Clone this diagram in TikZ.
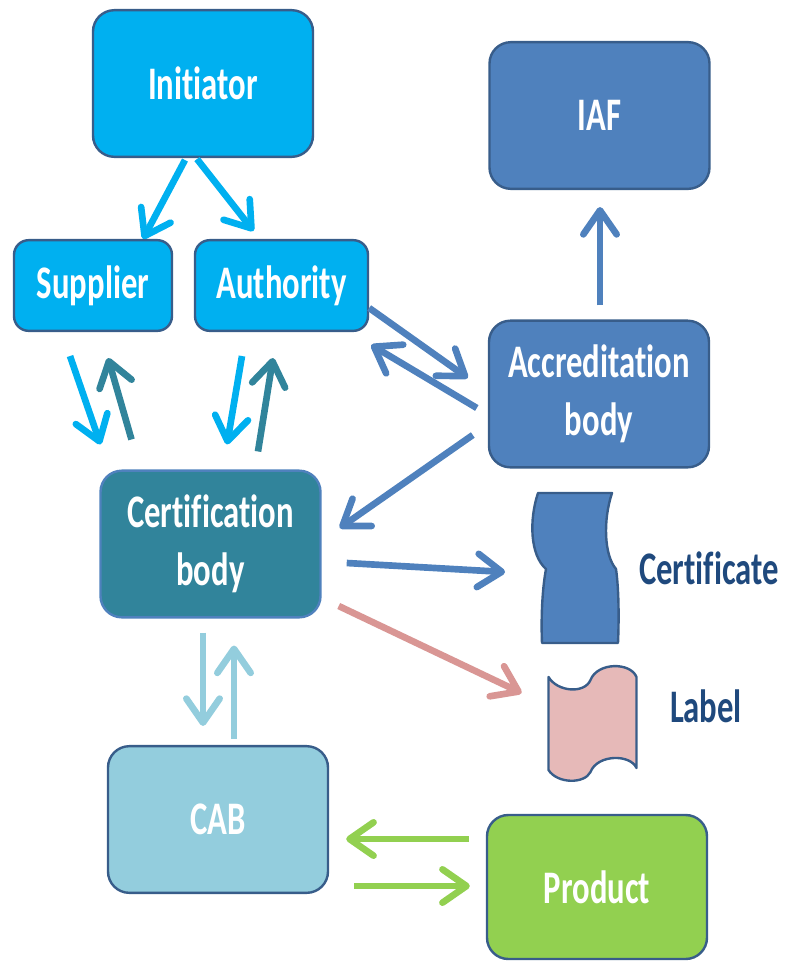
\documentclass[tikz,border=0pt]{standalone}
\usepackage{fontspec}
\setmainfont{Carlito}[FakeStretch=0.70, Ligatures={NoCommon,NoContextual}, RawFeature={-liga;-clig;-dlig}]
\usepackage{tikz}
\usetikzlibrary{arrows.meta,calc,positioning}

\definecolor{cyanfill}{HTML}{00B0F0}
\definecolor{bluefill}{HTML}{4F81BD}
\definecolor{tealfill}{HTML}{31849B}
\definecolor{cabfill}{HTML}{93CDDD}
\definecolor{prodfill}{HTML}{92D050}
\definecolor{labelfill}{HTML}{E6B9B8}
\definecolor{pinkline}{HTML}{D99694}
\definecolor{edge}{HTML}{385D8A}
\definecolor{darktext}{HTML}{1F497D}

\begin{document}
\begin{tikzpicture}[
  x=0.75pt, y=-0.75pt,
  box/.style={rectangle, draw=edge, line width=1.8pt, rounded corners=16pt, minimum width=165pt, minimum height=110pt, inner sep=0pt, text=white, font=\bfseries\fontsize{35}{43.5}\selectfont, align=center},
  small/.style={box, rounded corners=11pt, minimum height=68pt},
  cyanbox/.style={box, fill=cyanfill},
  bluebox/.style={box, fill=bluefill},
  tealbox/.style={box, fill=tealfill, draw=bluefill},
  cabbox/.style={box, fill=cabfill},
  prodbox/.style={box, fill=prodfill, minimum height=108pt},
  doc/.style={draw=edge, line width=1.8pt, line join=round},
  doctext/.style={text=darktext, font=\bfseries\fontsize{35}{43.5}\selectfont},
  arr/.style={line width=5pt, -{Straight Barb[length=18pt,width=25pt,round]}}
]
\useasboundingbox (0,0) rectangle (787,961);

% Top: who starts it
\node[cyanbox] (initiator) at (203,83.5) {Initiator};
\node[small, fill=cyanfill, minimum width=118.5pt] (supplier) at (93,285.5) {Supplier};
\node[small, fill=cyanfill, minimum width=129.75pt] (authority) at (281.5,285.5) {Authority};

% Right column: accreditation
\node[bluebox] (iaf) at (599.5,115.5) {IAF};
\node[bluebox] (accbody) at (599,394) {Accreditation\\body};

% Middle: certification
\node[tealbox] (certbody) at (210.5,544) {Certification\\body};

% Documents handed out
\node[minimum width=64pt, minimum height=114pt] (certdoc) at (576,568) {};
\begin{scope}[shift={(certdoc.center)}]
  \draw[doc, fill=bluefill] (-38,-75) .. controls (-47,-48) and (-46,-13) .. (-30,1)
    .. controls (-34,22) and (-35,52) .. (-34,75) -- (42,75)
    .. controls (43,52) and (43,22) .. (40,1)
    .. controls (28,-13) and (27,-48) .. (36,-75) -- cycle;
\end{scope}
\node[doctext] (certtext) at (709,568) {Certificate};

\node[minimum width=67pt, minimum height=83pt] (labeldoc) at (592.5,722) {};
\begin{scope}[shift={(labeldoc.center)}]
  \draw[doc, fill=labelfill] (-44,-45) .. controls (-35,-30) and (-8,-28) .. (-2,-42)
    .. controls (5,-60) and (38,-60) .. (44,-45) -- (44,46)
    .. controls (38,32) and (5,32) .. (-2,50)
    .. controls (-8,62) and (-35,62) .. (-44,48) -- cycle;
\end{scope}
\node[doctext] (labeltext) at (706,706) {Label};

% Bottom: testing
\node[cabbox] (cab) at (218,819.5) {CAB};
\node[prodbox] (product) at (597,887) {Product};

% Arrows
\draw[arr, cyanfill] ($(initiator.south)+(-18,2)$) -- ($(supplier.north)+(50,0)$);
\draw[arr, cyanfill] ($(initiator.south)+(-6,1)$) -- ($(authority.north)+(-28,-8)$);

\draw[arr, cyanfill] ($(supplier.south)+(-23,24)$) -- ($(certbody.north)+(-110,-25)$);
\draw[arr, tealfill] ($(certbody.north)+(-79,-30)$) -- ($(supplier.south)+(15,26)$);
\draw[arr, cyanfill] ($(authority.south)+(-39.5,24)$) -- ($(certbody.north)+(16.5,-25)$);
\draw[arr, tealfill] ($(certbody.north)+(47.5,-18)$) -- ($(authority.south)+(-8.5,26)$);

\draw[arr, bluefill] ($(authority.east)+(0,22.5)$) -- ($(accbody.west)+(-20,-16)$);
\draw[arr, bluefill] ($(accbody.west)+(-11,14)$) -- ($(authority.east)+(2,59.5)$);
\draw[arr, bluefill] ($(accbody.west)+(-15,41)$) -- ($(certbody.east)+(18,-16)$);
\draw[arr, bluefill] ($(accbody.north)+(1,-14)$) -- ($(iaf.south)+(0.5,17)$);

\draw[arr, bluefill] ($(certbody.east)+(25,19)$) -- ($(certdoc.west)+(-28,4)$);
\draw[arr, pinkline] ($(certbody.east)+(17,62)$) -- ($(labeldoc.west)+(-26,-29)$);

\draw[arr, cabfill] ($(certbody.south)+(-7.5,14)$) -- ($(cab.north)+(-15,-19)$);
\draw[arr, cabfill] ($(cab.north)+(16,-6)$) -- ($(certbody.south)+(23.5,27)$);

\draw[arr, prodfill] ($(product.west)+(-17,-48)$) -- ($(cab.east)+(17,19.5)$);
\draw[arr, prodfill] ($(cab.east)+(25,66.5)$) -- ($(product.west)+(-16,-1)$);

\end{tikzpicture}
\end{document}
